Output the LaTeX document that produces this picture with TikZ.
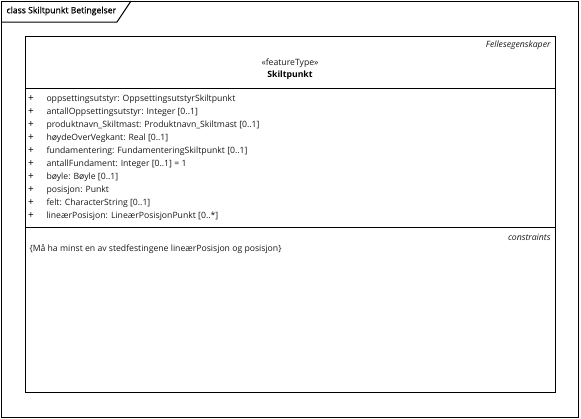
\documentclass[tikz,border=0pt]{standalone}
\usepackage{fontspec}
\setmainfont{Open Sans}
\newfontfamily\framefont[FakeBold=0.8]{Open Sans}
\usepackage{xcolor}
\usetikzlibrary{positioning}

\tikzset{
    umltext/.style={inner sep=0pt, text=black!90, font=\fontsize{6.5}{8}\selectfont},
    attr/.style={umltext, anchor=west},
    vis/.style={umltext, anchor=center, text=black, font=\fontsize{7.5}{8}\selectfont},
    tag/.style={umltext, anchor=east, font=\fontsize{6.5}{8}\selectfont\itshape}
}

\begin{document}
\begin{tikzpicture}[x=0.75pt, y=-0.75pt, line width=0.75pt]
    \useasboundingbox (0,0) rectangle (581,418);

    % Diagram frame
    \draw (1,1) rectangle (578,417);
    \draw (1,22) -- (117,22) -- (131,1);
    \node[attr, text=black, font=\fontsize{6.5}{8}\framefont] (frameName) at (6,11) {class Skiltpunkt Betingelser};

    % Class box
    \draw (25,36) rectangle (555,392);
    \draw (25,88) -- (555,88);
    \draw (25,227) -- (555,227);

    % Header
    \node[tag] (pkgName) at (551,45) {Fellesegenskaper};
    \node[umltext] (stereo) at (290,63) {«featureType»};
    \node[umltext, text=black, font=\fontsize{6.5}{8}\selectfont\bfseries] (clsName) at (290,75) {Skiltpunkt};

    % Attributes
    \node[vis] (p1) at (31,99) {+};
    \node[attr] (a1) at (46,99) {oppsettingsutstyr: OppsettingsutstyrSkiltpunkt};
    \node[vis] (p2) at (31,112) {+};
    \node[attr] (a2) at (46,112) {antallOppsettingsutstyr: Integer [0..1]};
    \node[vis] (p3) at (31,125) {+};
    \node[attr] (a3) at (46,125) {produktnavn\_Skiltmast: Produktnavn\_Skiltmast [0..1]};
    \node[vis] (p4) at (31,138) {+};
    \node[attr] (a4) at (46,138) {høydeOverVegkant: Real [0..1]};
    \node[vis] (p5) at (31,151) {+};
    \node[attr] (a5) at (46,151) {fundamentering: FundamenteringSkiltpunkt [0..1]};
    \node[vis] (p6) at (31,164) {+};
    \node[attr] (a6) at (46,164) {antallFundament: Integer [0..1] = 1};
    \node[vis] (p7) at (31,177) {+};
    \node[attr] (a7) at (46,177) {bøyle: Bøyle [0..1]};
    \node[vis] (p8) at (31,190) {+};
    \node[attr] (a8) at (46,190) {posisjon: Punkt};
    \node[vis] (p9) at (31,203) {+};
    \node[attr] (a9) at (46,203) {felt: CharacterString [0..1]};
    \node[vis] (p10) at (31,216) {+};
    \node[attr] (a10) at (46,216) {lineærPosisjon: LineærPosisjonPunkt [0..*]};

    % Constraints
    \node[tag] (consTitle) at (551,237) {constraints};
    \node[attr] (cons1) at (29,249) {\{Må ha minst en av stedfestingene lineærPosisjon og posisjon\}};
\end{tikzpicture}
\end{document}
